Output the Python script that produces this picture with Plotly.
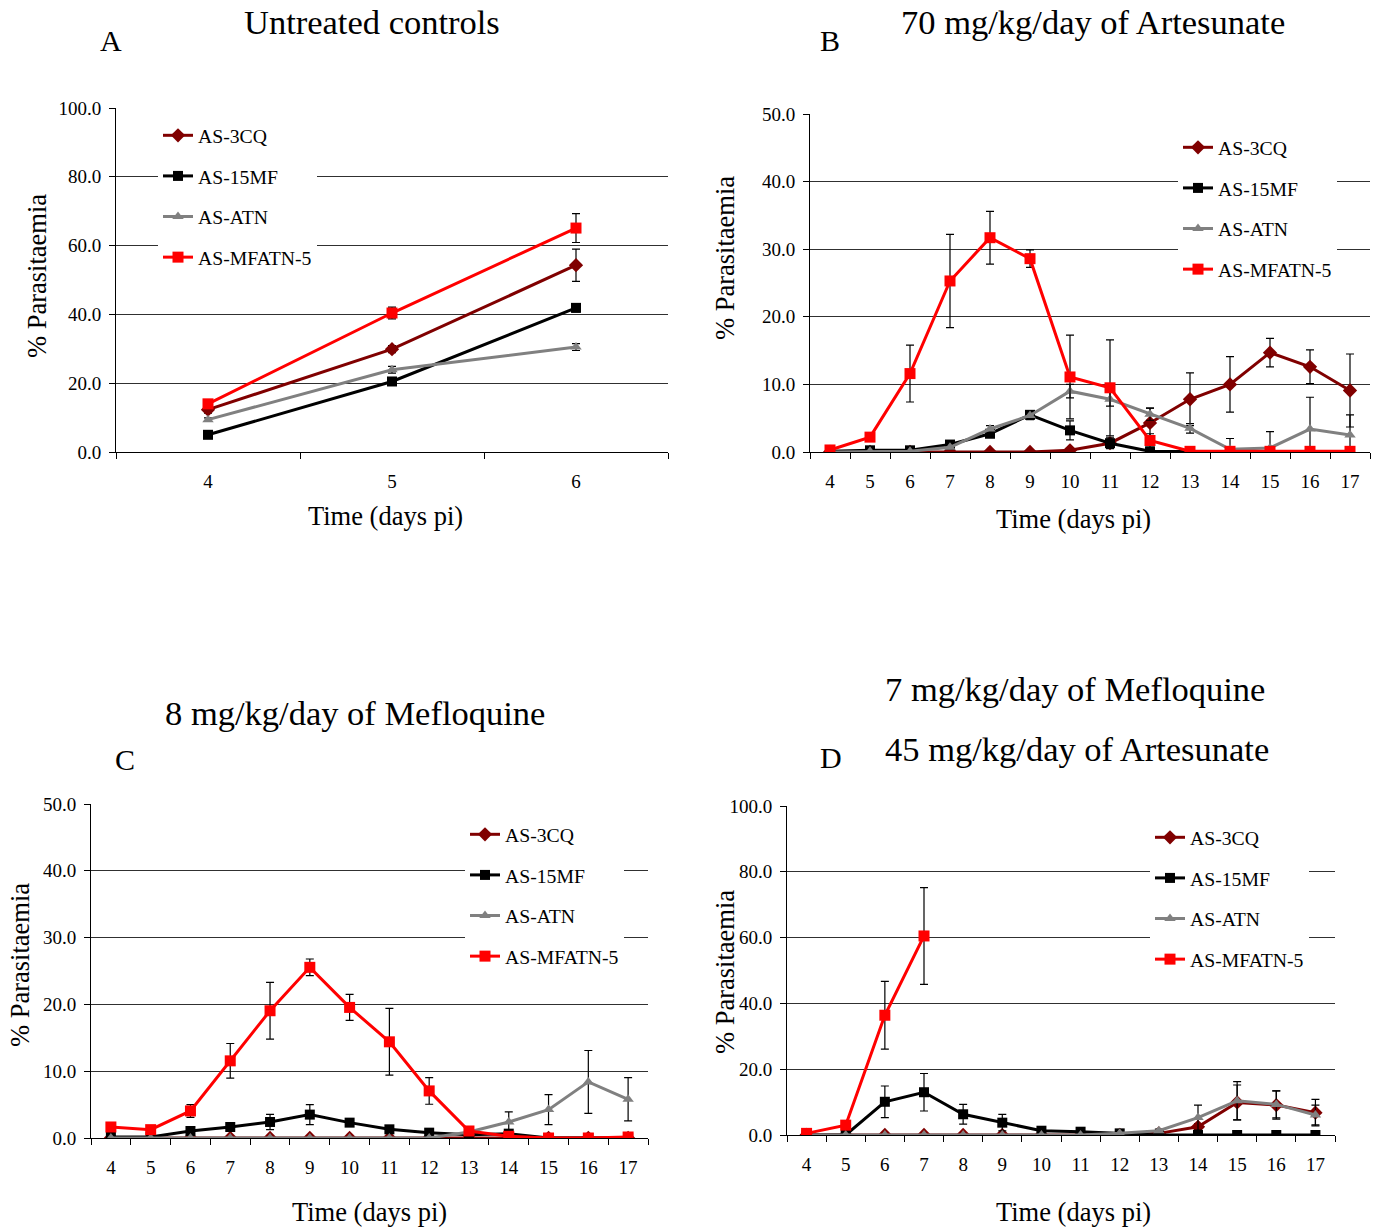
import plotly.graph_objects as go

W, H = 1381, 1229
FONT = "Liberation Serif"

# ---------------- data ----------------
series_names = ["AS-3CQ", "AS-15MF", "AS-ATN", "AS-MFATN-5"]

days_A = [4, 5, 6]
days = [4, 5, 6, 7, 8, 9, 10, 11, 12, 13, 14, 15, 16, 17]

A_3CQ = [12.3, 29.9, 54.3]
A_3CQ_err = [1.0, 1.0, 4.7]
A_15MF = [5.0, 20.5, 41.9]
A_15MF_err = [0.5, 1.0, 1.2]
A_ATN = [9.4, 23.9, 30.5]
A_ATN_err = [0.5, 1.0, 1.0]
A_MFATN5 = [14.0, 40.4, 65.1]
A_MFATN5_err = [1.0, 1.7, 4.2]

B_3CQ = [0, 0, 0, 0, 0, 0, 0.25, 1.3, 4.3, 7.8, 10.0, 14.7, 12.6, 9.1]
B_3CQ_err = [0, 0, 0, 0, 0, 0, 0.2, 0.5, 2.2, 3.9, 4.1, 2.1, 2.5, 5.4]
B_15MF = [0.1, 0.25, 0.25, 1.1, 2.7, 5.5, 3.2, 1.3, 0.1, 0, 0, 0, 0, 0]
B_15MF_err = [0, 0.1, 0.1, 0.3, 0.5, 0.5, 1.4, 0.8, 0, 0, 0, 0, 0, 0]
B_ATN = [0, 0.1, 0.1, 0.7, 3.4, 5.4, 9.0, 7.8, 5.6, 3.5, 0.4, 0.6, 3.4, 2.5]
B_ATN_err = [0, 0, 0, 0.2, 0.5, 0.6, 1.0, 1.0, 0.9, 0.7, 1.6, 2.4, 4.7, 3.0]
B_MFATN5 = [0.3, 2.2, 11.6, 25.3, 31.7, 28.6, 11.1, 9.5, 1.7, 0.1, 0.1, 0.1, 0.1, 0.1]
B_MFATN5_err = [0.2, 0.5, 4.2, 6.9, 3.9, 1.3, 6.2, 7.1, 1.0, 0, 0, 0, 0, 0]

C_3CQ = [0, 0, 0, 0, 0, 0, 0, 0, 0, 0, 0, 0, 0, 0]
C_3CQ_err = [0, 0, 0, 0, 0, 0, 0, 0, 0, 0, 0, 0, 0, 0]
C_15MF = [0.15, 0.15, 1.05, 1.65, 2.4, 3.5, 2.3, 1.3, 0.8, 0.5, 0.65, 0, 0, 0]
C_15MF_err = [0.1, 0.1, 0.4, 0.4, 1.15, 1.5, 0.5, 0.4, 0.3, 0.3, 0.3, 0, 0, 0]
C_ATN = [0, 0, 0, 0, 0, 0, 0, 0, 0, 0.9, 2.4, 4.25, 8.4, 5.8]
C_ATN_err = [0, 0, 0, 0, 0, 0, 0, 0, 0, 0.3, 1.5, 2.25, 4.7, 3.25]
C_MFATN5 = [1.65, 1.25, 4.05, 11.55, 19.05, 25.55, 19.55, 14.4, 7.05, 1.05, 0.25, 0, 0, 0.15]
C_MFATN5_err = [0.3, 0.3, 0.95, 2.6, 4.25, 1.25, 1.95, 5.0, 2.0, 0.5, 0.2, 0, 0, 0.1]

D_3CQ = [0, 0, 0, 0, 0, 0, 0, 0, 0, 0.5, 2.5, 9.9, 9.1, 6.8]
D_3CQ_err = [0, 0, 0, 0, 0, 0, 0, 0, 0, 0.3, 1.0, 5.3, 4.3, 4.0]
D_15MF = [0, 0, 10.1, 13.0, 6.3, 3.75, 1.3, 1.0, 0.5, 0, 0, 0, 0, 0]
D_15MF_err = [0, 0, 4.8, 5.7, 3.0, 2.5, 0.3, 0.3, 0.2, 0, 0, 0, 0, 0]
D_ATN = [0, 0, 0, 0, 0, 0, 0, 0, 0.5, 1.3, 5.3, 10.4, 9.3, 6.1]
D_ATN_err = [0, 0, 0, 0, 0, 0, 0, 0, 0.3, 0.5, 3.8, 5.8, 4.1, 3.0]
D_MFATN5 = [0.5, 3.0, 36.4, 60.5, None, None, None, None, None, None, None, None, None, None]
D_MFATN5_err = [0.3, 0.5, 10.3, 14.7, None, None, None, None, None, None, None, None, None, None]

titles = {
    "A": ["Untreated controls"],
    "B": ["70 mg/kg/day of Artesunate"],
    "C": ["8 mg/kg/day of Mefloquine"],
    "D": ["7 mg/kg/day of Mefloquine", "45 mg/kg/day of Artesunate"],
}
x_title = "Time (days pi)"
y_title = "% Parasitaemia"

# ---------------- styles ----------------
styles = [
    dict(color="#800000", symbol="diamond", size=11),
    dict(color="#000000", symbol="square", size=10),
    dict(color="#808080", symbol="triangle-up", size=10),
    dict(color="#FF0000", symbol="square", size=11),
]


def px_x(p):
    return p / W


def px_y(p):
    return 1 - p / H


panels = [
    # key, x, series, errors, domain px (x0,x1,ytop,ybot), ymax, dtick,
    # legend pos px (left, top), legend entry width px
    ("A", days_A, [A_3CQ, A_15MF, A_ATN, A_MFATN5],
     [A_3CQ_err, A_15MF_err, A_ATN_err, A_MFATN5_err],
     (116, 668, 108, 452), 100, 20, (158, 116), 150),
    ("B", days, [B_3CQ, B_15MF, B_ATN, B_MFATN5],
     [B_3CQ_err, B_15MF_err, B_ATN_err, B_MFATN5_err],
     (810, 1370, 114, 452), 50, 10, (1178, 128), 148),
    ("C", days, [C_3CQ, C_15MF, C_ATN, C_MFATN5],
     [C_3CQ_err, C_15MF_err, C_ATN_err, C_MFATN5_err],
     (91, 648, 804, 1138), 50, 10, (465, 815), 150),
    ("D", days, [D_3CQ, D_15MF, D_ATN, D_MFATN5],
     [D_3CQ_err, D_15MF_err, D_ATN_err, D_MFATN5_err],
     (787, 1335, 806, 1135), 100, 20, (1150, 818), 150),
]

fig = go.Figure()
layout = dict(
    width=W, height=H, autosize=False,
    margin=dict(l=0, r=0, t=0, b=0, pad=0, autoexpand=False),
    paper_bgcolor="white", plot_bgcolor="white",
    font=dict(family=FONT, color="black", size=19),
    showlegend=True,
)

for i, (key, xs, ys_list, err_list, dom, ymax, dt, lpos, ew) in enumerate(panels):
    n = i + 1
    xa = "x" if n == 1 else f"x{n}"
    ya = "y" if n == 1 else f"y{n}"
    lg = "legend" if n == 1 else f"legend{n}"
    for j, (name, ys, es) in enumerate(zip(series_names, ys_list, err_list)):
        st = styles[j]
        fig.add_trace(go.Scatter(
            x=xs, y=ys, name=name, mode="lines+markers",
            xaxis=xa, yaxis=ya, legend=lg, legendgroup=f"{key}{j}",
            line=dict(color=st["color"], width=3),
            marker=dict(color=st["color"], symbol=st["symbol"], size=st["size"]),
            error_y=dict(type="data", array=es, visible=True, color="black",
                         thickness=1.2, width=4),
            connectgaps=False,
        ))
    x0, x1, yt, yb = dom
    bounds = [d - 0.5 for d in xs] + [xs[-1] + 0.5]
    layout[f"xaxis{'' if n == 1 else n}"] = dict(
        domain=[px_x(x0), px_x(x1)], anchor=ya, automargin=False,
        range=[xs[0] - 0.5, xs[-1] + 0.5],
        tickmode="array", tickvals=xs, ticktext=[str(d) for d in xs],
        ticks="", ticklabelstandoff=12,
        minor=dict(ticks="outside", ticklen=6, tickcolor="black",
                   tickmode="array", tickvals=bounds, showgrid=False),
        showline=True, linecolor="black", linewidth=1,
        showgrid=False, zeroline=False,
        tickfont=dict(family=FONT, size=19, color="black"),
        fixedrange=True,
    )
    layout[f"yaxis{'' if n == 1 else n}"] = dict(
        domain=[px_y(yb), px_y(yt)], anchor=xa, automargin=False,
        range=[0, ymax], dtick=dt, tick0=0, tickformat=".1f",
        ticks="outside", ticklen=6, tickcolor="black", ticklabelstandoff=4,
        showline=True, linecolor="black", linewidth=1,
        showgrid=True, gridcolor="#303030", gridwidth=1, zeroline=False,
        tickfont=dict(family=FONT, size=19, color="black"),
        fixedrange=True,
    )
    layout[lg] = dict(
        x=px_x(lpos[0]), y=px_y(lpos[1]), xanchor="left", yanchor="top",
        bgcolor="white", borderwidth=0, entrywidth=ew, entrywidthmode="pixels",
        font=dict(family=FONT, size=19.7, color="black"),
        tracegroupgap=12, itemclick=False, itemdoubleclick=False,
    )

annotations = []


def ann(text, x, y, size, angle=0):
    annotations.append(dict(
        text=text, x=px_x(x), y=px_y(y), xref="paper", yref="paper",
        xanchor="center", yanchor="middle", showarrow=False, textangle=angle,
        font=dict(family=FONT, size=size, color="black"),
    ))


# titles
ann(titles["A"][0], 372, 22, 34.5)
ann(titles["B"][0], 1093, 22, 34.5)
ann(titles["C"][0], 355, 713, 34.5)
ann(titles["D"][0], 1075, 689, 34.5)
ann(titles["D"][1], 1077, 749, 34.5)
# panel letters
ann("A", 111, 40, 30)
ann("B", 830, 40, 30)
ann("C", 125, 759, 30)
ann("D", 831, 757, 30)
# axis titles
ann(x_title, 385, 516, 26.5)
ann(x_title, 1073, 519, 26.5)
ann(x_title, 369, 1212, 26.5)
ann(x_title, 1073, 1212, 26.5)
ann(y_title, 37, 276, 26.5, -90)
ann(y_title, 725, 258, 26.5, -90)
ann(y_title, 20, 965, 26.5, -90)
ann(y_title, 725, 972, 26.5, -90)

layout["annotations"] = annotations
fig.update_layout(**layout)
fig.write_html("out.html", config={"displayModeBar": False})
